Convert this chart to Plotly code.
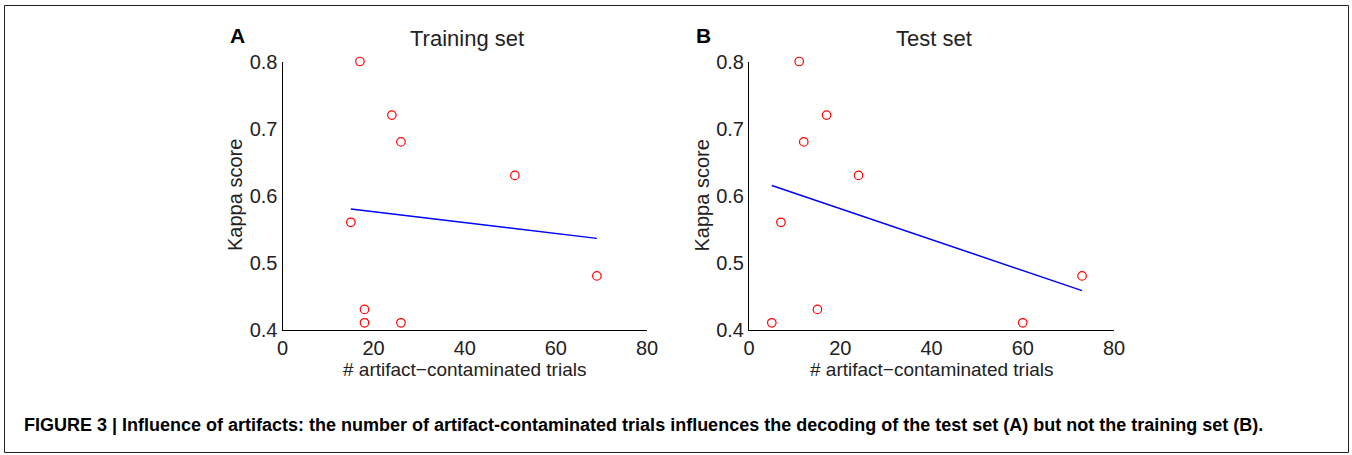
import plotly.graph_objects as go

# Panel A: training set
train_x = [17, 24, 26, 51, 15, 69, 18, 18, 26]
train_y = [0.80, 0.72, 0.68, 0.63, 0.56, 0.48, 0.43, 0.41, 0.41]
train_fit_x = [15, 69]
train_fit_y = [0.580, 0.536]

# Panel B: test set
test_x = [11, 17, 12, 24, 7, 73, 15, 5, 60]
test_y = [0.80, 0.72, 0.68, 0.63, 0.56, 0.48, 0.43, 0.41, 0.41]
test_fit_x = [5, 73]
test_fit_y = [0.615, 0.458]

x_ticks = [0, 20, 40, 60, 80]
y_ticks = [0.4, 0.5, 0.6, 0.7, 0.8]
y_ticklabels = ["0.4", "0.5", "0.6", "0.7", "0.8"]

panel_titles = ["Training set", "Test set"]
panel_letters = ["A", "B"]
x_title = "# artifact\u2212contaminated trials"
y_title = "Kappa score"
caption = ("FIGURE 3 | Influence of artifacts: the number of artifact-contaminated trials "
           "influences the decoding of the test set (A) but not the training set (B).")

W, H = 1352, 455
FONT = "Liberation Sans, Arial, Helvetica, sans-serif"

fig = go.Figure()

panels = [
    (train_x, train_y, train_fit_x, train_fit_y, "x", "y"),
    (test_x, test_y, test_fit_x, test_fit_y, "x2", "y2"),
]
for px, py, fx, fy, xa, ya in panels:
    fig.add_trace(go.Scatter(x=fx, y=fy, mode="lines", xaxis=xa, yaxis=ya,
                             line=dict(color="#0000ff", width=1.5), showlegend=False,
                             hoverinfo="skip"))
    fig.add_trace(go.Scatter(x=px, y=py, mode="markers", xaxis=xa, yaxis=ya,
                             marker=dict(symbol="circle-open", size=8.5, color="#ff0000",
                                         line=dict(width=1.2, color="#ff0000")),
                             showlegend=False, cliponaxis=False))

# pixel layout (margins 0 and body margin 0 -> paper == page)
axA = (282.5, 647.0)
axB = (749.0, 1114.0)
ytop, ybot = 61.5, 329.5

def px2x(p):
    return p / W

def px2y(p):
    return 1 - p / H

common_x = dict(range=[0, 80], tickvals=x_ticks, ticks="", showgrid=False, zeroline=False,
                showline=True, linecolor="black", linewidth=1,
                tickfont=dict(family=FONT, size=20, color="#222"), automargin=False)
common_y = dict(range=[0.4, 0.8], tickvals=y_ticks, ticktext=y_ticklabels, ticks="",
                showgrid=False, zeroline=False, showline=True, linecolor="black", linewidth=1,
                tickfont=dict(family=FONT, size=20, color="#222"), automargin=False)

fig.update_layout(
    width=W, height=H,
    margin=dict(l=0, r=0, t=0, b=0),
    paper_bgcolor="white", plot_bgcolor="white",
    xaxis=dict(domain=[px2x(axA[0]), px2x(axA[1])], anchor="y", **common_x),
    yaxis=dict(domain=[px2y(ybot), px2y(ytop)], anchor="x", **common_y),
    xaxis2=dict(domain=[px2x(axB[0]), px2x(axB[1])], anchor="y2", **common_x),
    yaxis2=dict(domain=[px2y(ybot), px2y(ytop)], anchor="x2", **common_y),
)

ann = []
for (x0, x1), title, letter in zip([axA, axB], panel_titles, panel_letters):
    cx = (x0 + x1) / 2
    ann.append(dict(text=title, x=px2x(cx + 2), y=px2y(38), xref="paper", yref="paper",
                    showarrow=False, xanchor="center", yanchor="middle",
                    font=dict(family=FONT, size=22, color="#222")))
    ann.append(dict(text="<b>" + letter + "</b>", x=px2x(x0 - 55), y=px2y(36), xref="paper",
                    yref="paper", showarrow=False, xanchor="left", yanchor="middle",
                    font=dict(family=FONT, size=21, color="black")))
    ann.append(dict(text=x_title, x=px2x(cx), y=px2y(369), xref="paper", yref="paper",
                    showarrow=False, xanchor="center", yanchor="middle",
                    font=dict(family=FONT, size=19, color="#222")))
    ann.append(dict(text=y_title, x=px2x(x0 - 48), y=px2y((ytop + ybot) / 2), xref="paper",
                    yref="paper", showarrow=False, xanchor="center", yanchor="middle",
                    textangle=-90, font=dict(family=FONT, size=20, color="#222")))

ann.append(dict(text="<b>" + caption + "</b>", x=px2x(22), y=px2y(425), xref="paper",
                yref="paper", showarrow=False, xanchor="left", yanchor="middle",
                font=dict(family=FONT, size=18, color="black")))
fig.update_layout(annotations=ann)

fig.add_shape(type="rect", xref="paper", yref="paper",
              x0=px2x(4.5), x1=px2x(1348.5), y0=px2y(452.5), y1=px2y(5.5),
              line=dict(color="#222", width=1), fillcolor="rgba(0,0,0,0)", layer="above")

fig.write_html("out.html", config={"displayModeBar": False},
               post_script="document.body.style.margin='0px';")
